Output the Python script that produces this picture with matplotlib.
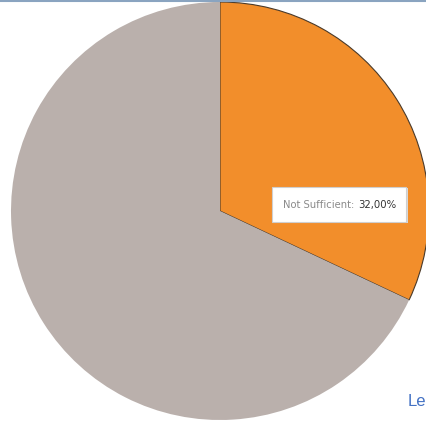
import matplotlib.pyplot as plt
from matplotlib.patches import Rectangle

labels = ["Not Sufficient", "Sufficient"]
shares = [32.0, 68.0]
colors = ["#f28e2b", "#bab0ac"]

W, H = 427, 423
fig = plt.figure(figsize=(W / 100, H / 100), dpi=100)
ax = fig.add_axes([0, 0, 1, 1])

# pie in pixel space, center slightly off the figure center (cropped on the right)
wedges, _ = ax.pie(shares, colors=colors, startangle=90, counterclock=False,
                   center=(220, 212), radius=209)
wedges[0].set_edgecolor("#4a3a2a")
wedges[0].set_linewidth(0.8)
wedges[1].set_edgecolor("none")

ax.set_xlim(0, W)
ax.set_ylim(0, H)
ax.set_aspect("equal")
ax.axis("off")

# tooltip box
ax.add_patch(Rectangle((274, H - 223), 134, 35, facecolor="#d9d9d9", edgecolor="none", zorder=4))
ax.add_patch(Rectangle((272, H - 222), 134, 35, facecolor="white", edgecolor="#cfcfcf",
                       linewidth=0.8, zorder=5))
ax.text(283, H - 205, labels[0] + ":", fontsize=7.2, color="#8a8a8a", va="center",
        family="DejaVu Sans", zorder=6)
ax.text(358, H - 205, f"{shares[0]:.2f}%".replace(".", ","), fontsize=7.3, color="#333333",
        va="center", family="DejaVu Sans", zorder=6)

# cropped neighbouring text and frame line
fig.text(408 / W, 1 - 406 / H, "Le", fontsize=12, color="#4472c4", va="baseline",
         family="Liberation Sans")
fig.add_artist(plt.Line2D([0, 1], [1 - 0.8 / H, 1 - 0.8 / H], color="#8aa4c0",
                          linewidth=1.5, transform=fig.transFigure))

fig.savefig("out.png", dpi=100)
